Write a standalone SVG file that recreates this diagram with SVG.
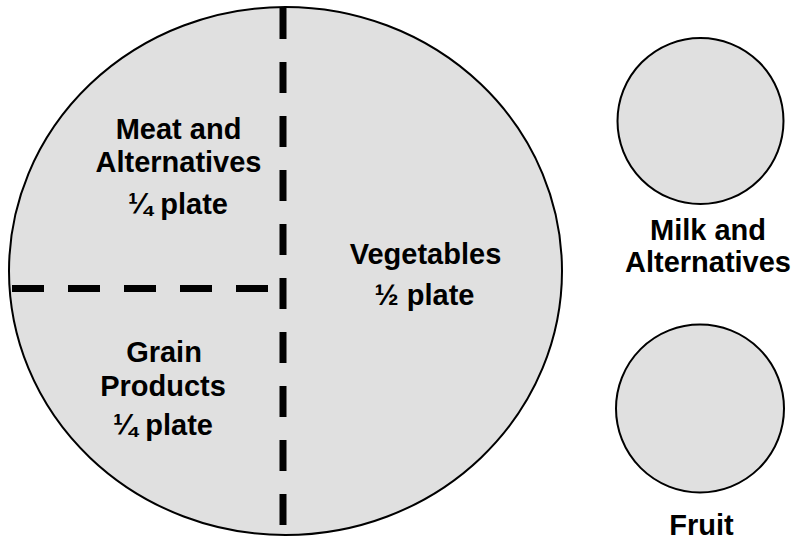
<svg xmlns="http://www.w3.org/2000/svg" width="793" height="542" viewBox="0 0 793 542">
<style>
.plate{fill:#e0e0e0;stroke:#000;stroke-width:2}
.lbl{font-family:"Liberation Sans",Arial,sans-serif;font-weight:bold;font-size:29px;fill:#000;text-anchor:middle}
.dash{stroke:#000;stroke-width:7;fill:none}
</style>
<rect width="793" height="542" fill="#fff"/>
<g id="plate">
<ellipse class="plate" cx="285.5" cy="271" rx="276.5" ry="264"/>
</g>
<g id="dividers">
<line class="dash" x1="283" y1="8" x2="283" y2="540" stroke-dasharray="31 23"/>
<line class="dash" x1="12" y1="288.5" x2="268" y2="288.5" stroke-dasharray="32 24"/>
</g>
<g id="meat">
<text class="lbl" x="178.5" y="139">Meat and</text>
<text class="lbl" x="178.5" y="172">Alternatives</text>
<text class="lbl" x="178" y="214">¼ plate</text>
</g>
<g id="grain">
<text class="lbl" x="164" y="362">Grain</text>
<text class="lbl" x="163" y="396">Products</text>
<text class="lbl" x="163" y="435">¼ plate</text>
</g>
<g id="vegetables">
<text class="lbl" x="425.5" y="264">Vegetables</text>
<text class="lbl" x="424.5" y="305">½ plate</text>
</g>
<g id="milk">
<circle class="plate" cx="700.5" cy="121" r="83"/>
<text class="lbl" x="708" y="240">Milk and</text>
<text class="lbl" x="708" y="272">Alternatives</text>
</g>
<g id="fruit">
<circle class="plate" cx="700" cy="408.5" r="84"/>
<text class="lbl" x="701.5" y="535">Fruit</text>
</g>
</svg>
